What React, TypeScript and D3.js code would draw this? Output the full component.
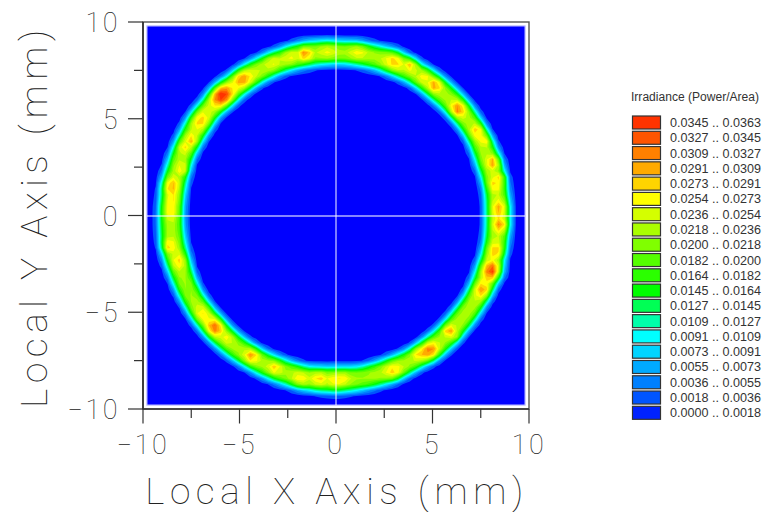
import React, { useMemo } from "react";
import * as d3 from "d3";

const legendTitle = "Irradiance (Power/Area)";
const bandLow = [0.0, 0.0018, 0.0036, 0.0055, 0.0073, 0.0091, 0.0109, 0.0127, 0.0145, 0.0164, 0.0182, 0.02, 0.0218, 0.0236, 0.0254, 0.0273, 0.0291, 0.0309, 0.0327, 0.0345];
const bandHigh = [0.0018, 0.0036, 0.0055, 0.0073, 0.0091, 0.0109, 0.0127, 0.0145, 0.0164, 0.0182, 0.02, 0.0218, 0.0236, 0.0254, 0.0273, 0.0291, 0.0309, 0.0327, 0.0345, 0.0363];
const legendColors = ["#0022ff", "#0055ff", "#0080ff", "#00aaff", "#00d4ff", "#00ffff", "#00ffaa", "#00ff55", "#00ff00", "#2bff00", "#55ff00", "#80ff00", "#aaff00", "#d4ff00", "#ffff00", "#ffd400", "#ffaa00", "#ff8000", "#ff5500", "#ff3300"];
const plotBackground = "#0000ff";

// ring, every 10 degrees counter-clockwise from +X
const ringRadius = [8.46, 8.48, 8.46, 8.49, 8.5, 8.47, 8.48, 8.5, 8.47, 8.46, 8.49, 8.47, 8.48, 8.47, 8.5, 8.47, 8.48, 8.46, 8.46, 8.48, 8.46, 8.49, 8.47, 8.48, 8.46, 8.46, 8.49, 8.46, 8.48, 8.46, 8.46, 8.49, 8.46, 8.48, 8.46, 8.47];
const ringPeak = [0.024, 0.023, 0.023, 0.022, 0.023, 0.022, 0.022, 0.023, 0.022, 0.022, 0.023, 0.022, 0.024, 0.023, 0.023, 0.022, 0.023, 0.022, 0.023, 0.023, 0.022, 0.022, 0.023, 0.022, 0.023, 0.022, 0.023, 0.022, 0.022, 0.023, 0.022, 0.022, 0.023, 0.023, 0.022, 0.023];
const ringWidth = [0.66, 0.64, 0.67, 0.62, 0.65, 0.68, 0.63, 0.66, 0.63, 0.62, 0.67, 0.64, 0.66, 0.68, 0.64, 0.67, 0.63, 0.66, 0.65, 0.68, 0.64, 0.62, 0.66, 0.67, 0.64, 0.66, 0.63, 0.68, 0.64, 0.66, 0.62, 0.67, 0.65, 0.63, 0.67, 0.64];

// local hot spots
const hotX = [-5.92, -4.89, -7.05, -7.48, -7.9, -7.9, -8.57, -8.5, -8.57, -1.6, -2.38, -3.26, -0.41, 1.15, 3.06, 3.89, 4.61, 5.13, 6.3, 7.36, 7.75, 8.2, 8.55, 8.24, 8.5, 8.55, 8.29, 8.12, 7.62, 5.85, 6.17, 4.87, 4.35, 3.0, 0.3, -8.7, -8.08, -6.96, -6.27, -5.6, -4.37, -3.16, -1.87, -0.83, 0.03];
const hotY = [6.22, 7.05, 4.89, 3.9, 3.56, 2.38, 1.52, 0.93, 0.31, 8.34, 8.25, 8.0, 8.51, 8.51, 8.0, 7.82, 7.15, 6.74, 5.49, 4.37, 3.9, 2.76, 1.92, 1.6, 0.36, -0.47, -1.85, -2.88, -3.83, -5.94, -6.25, -7.0, -7.1, -8.07, -8.4, -1.59, -2.37, -5.08, -5.79, -6.33, -7.24, -7.88, -8.5, -8.4, -8.5];
const hotV = [0.036, 0.03, 0.028, 0.03, 0.028, 0.029, 0.031, 0.028, 0.027, 0.032, 0.026, 0.026, 0.026, 0.027, 0.028, 0.031, 0.027, 0.032, 0.032, 0.03, 0.029, 0.032, 0.03, 0.028, 0.029, 0.031, 0.029, 0.036, 0.031, 0.032, 0.028, 0.033, 0.03, 0.028, 0.028, 0.03, 0.028, 0.027, 0.033, 0.027, 0.031, 0.029, 0.027, 0.028, 0.028];
const hotS = [0.42, 0.34, 0.42, 0.24, 0.22, 0.22, 0.32, 0.3, 0.32, 0.22, 0.3, 0.3, 0.34, 0.34, 0.38, 0.24, 0.32, 0.26, 0.28, 0.26, 0.22, 0.24, 0.22, 0.26, 0.3, 0.26, 0.3, 0.36, 0.3, 0.2, 0.18, 0.34, 0.28, 0.32, 0.3, 0.24, 0.32, 0.32, 0.32, 0.22, 0.24, 0.24, 0.3, 0.32, 0.32];

const axisTicks = [-10, -5, 0, 5, 10];
const minorTicks = [-7.5, -2.5, 2.5, 7.5];
const xTitle = "Local X Axis (mm)";
const yTitle = "Local Y Axis (mm)";
const extent = 9.8;
const gridN = 64;

export default function App() {
  const x = d3.scaleLinear().domain([-10, 10]).range([143, 529]);
  const y = d3.scaleLinear().domain([-10, 10]).range([409, 22]);
  const fmt = (v: number) => v.toFixed(4);
  const tickFmt = (v: number) => (v < 0 ? "\u2212" + Math.abs(v) : String(v));

  const bands = useMemo(() => {
    const fr = d3.scaleLinear().domain(d3.range(37)).range([...ringRadius, ringRadius[0]]);
    const fp = d3.scaleLinear().domain(d3.range(37)).range([...ringPeak, ringPeak[0]]);
    const fw = d3.scaleLinear().domain(d3.range(37)).range([...ringWidth, ringWidth[0]]);
    const cell = d3.scaleLinear().domain([0, gridN]).range([-extent, extent]);
    const values = new Array(gridN * gridN);
    for (let j = 0; j < gridN; j++) {
      for (let i = 0; i < gridN; i++) {
        const mx = cell(i + 0.5);
        const my = -cell(j + 0.5);
        const dx = mx + 0.08;
        const dy = my + 0.03;
        const t = (((Math.atan2(dy, dx) / (2 * Math.PI)) + 1) % 1) * 36;
        const d = Math.abs(Math.hypot(dx, dy) - fr(t));
        const v = fp(t) * Math.exp(-Math.pow(d / fw(t), 3));
        let extra = 0;
        for (let k = 0; k < hotX.length; k++) {
          const hx = mx - hotX[k];
          const hy = my - hotY[k];
          const a = Math.max(0, hotV[k] - 0.022);
          extra = Math.max(extra, a * Math.exp(-(hx * hx + hy * hy) / (2 * hotS[k] * hotS[k])));
        }
        values[j * gridN + i] = v + extra;
      }
    }
    return d3.contours().size([gridN, gridN]).thresholds(bandLow.slice(1))(values);
  }, []);

  const ix = d3.scaleLinear().domain([0, gridN]).range([x(-extent), x(extent)]);
  const iy = d3.scaleLinear().domain([0, gridN]).range([y(extent), y(-extent)]);
  const path = d3.geoPath(d3.geoTransform({ point(px: number, py: number) { (this as any).stream.point(ix(px), iy(py)); } }));

  const strokeFont: React.CSSProperties = { fontFamily: "Roboto, 'Open Sans', sans-serif", fontWeight: 100 };
  const tickFill = "#222";

  return (
    <svg width={765} height={512} style={{ position: "absolute", left: 0, top: 0, background: "#fff" }}>
      <rect x={x(-extent)} y={y(extent)} width={x(extent) - x(-extent)} height={y(-extent) - y(extent)} fill={plotBackground} />
      {bands.map((b, i) => (
        <path key={i} d={path(b as any) || ""} fill={legendColors[i + 1]} />
      ))}
      <rect x={x(-extent)} y={y(extent)} width={x(extent) - x(-extent)} height={y(-extent) - y(extent)} fill="none" stroke="#c8c8ff" strokeWidth={1.2} />
      <line x1={x(0)} x2={x(0)} y1={y(extent)} y2={y(-extent)} stroke="#fff" strokeOpacity={0.7} strokeWidth={1.4} />
      <line x1={x(-extent)} x2={x(extent)} y1={y(0) + 0.5} y2={y(0) + 0.5} stroke="#fff" strokeOpacity={0.7} strokeWidth={1.4} />

      <rect x={143} y={22} width={386} height={387} fill="none" stroke="#555" strokeWidth={1.4} />
      <line x1={143} x2={143} y1={22} y2={409} stroke="#222" strokeWidth={1.4} />
      <line x1={143} x2={529} y1={409} y2={409} stroke="#333" strokeWidth={1.4} />
      {axisTicks.map((t) => (
        <g key={t}>
          <line x1={x(t)} x2={x(t)} y1={409} y2={423.5} stroke="#333" strokeWidth={1.2} />
          <line x1={143} x2={128} y1={y(t)} y2={y(t)} stroke="#333" strokeWidth={1.2} />
          <text x={x(t)} y={454} textAnchor="middle" fontSize={27} letterSpacing={2.5} fill={tickFill} style={strokeFont}>{tickFmt(t)}</text>
          <text x={120} y={y(t) + 10} textAnchor="end" fontSize={27} letterSpacing={2.5} fill={tickFill} style={strokeFont}>{tickFmt(t)}</text>
        </g>
      ))}
      {minorTicks.map((t) => (
        <g key={t}>
          <line x1={x(t)} x2={x(t)} y1={409} y2={418} stroke="#333" strokeWidth={1.2} />
          <line x1={143} x2={134} y1={y(t)} y2={y(t)} stroke="#333" strokeWidth={1.2} />
        </g>
      ))}
      <text x={337} y={504} textAnchor="middle" fontSize={37} letterSpacing={5.6} fill={tickFill} style={strokeFont}>{xTitle}</text>
      <text transform="translate(47,216) rotate(-90)" textAnchor="middle" fontSize={37} letterSpacing={5.6} fill={tickFill} style={strokeFont}>{yTitle}</text>

      <text x={631} y={101} fontSize={12} fill="#333" fontFamily="'Liberation Sans', Arial, sans-serif" textLength={128} lengthAdjust="spacingAndGlyphs">{legendTitle}</text>
      {legendColors.slice().reverse().map((c, i) => {
        const k = legendColors.length - 1 - i;
        const top = 116 + i * 15.28;
        return (
          <g key={k}>
            <rect x={632.5} y={top} width={28} height={13} fill={c} stroke="#333" strokeWidth={1.2} />
            <text x={670} y={top + 11} fontSize={12} fill="#333" fontFamily="'Liberation Sans', Arial, sans-serif" textLength={91} lengthAdjust="spacingAndGlyphs">{`${fmt(bandLow[k])} .. ${fmt(bandHigh[k])}`}</text>
          </g>
        );
      })}
    </svg>
  );
}
